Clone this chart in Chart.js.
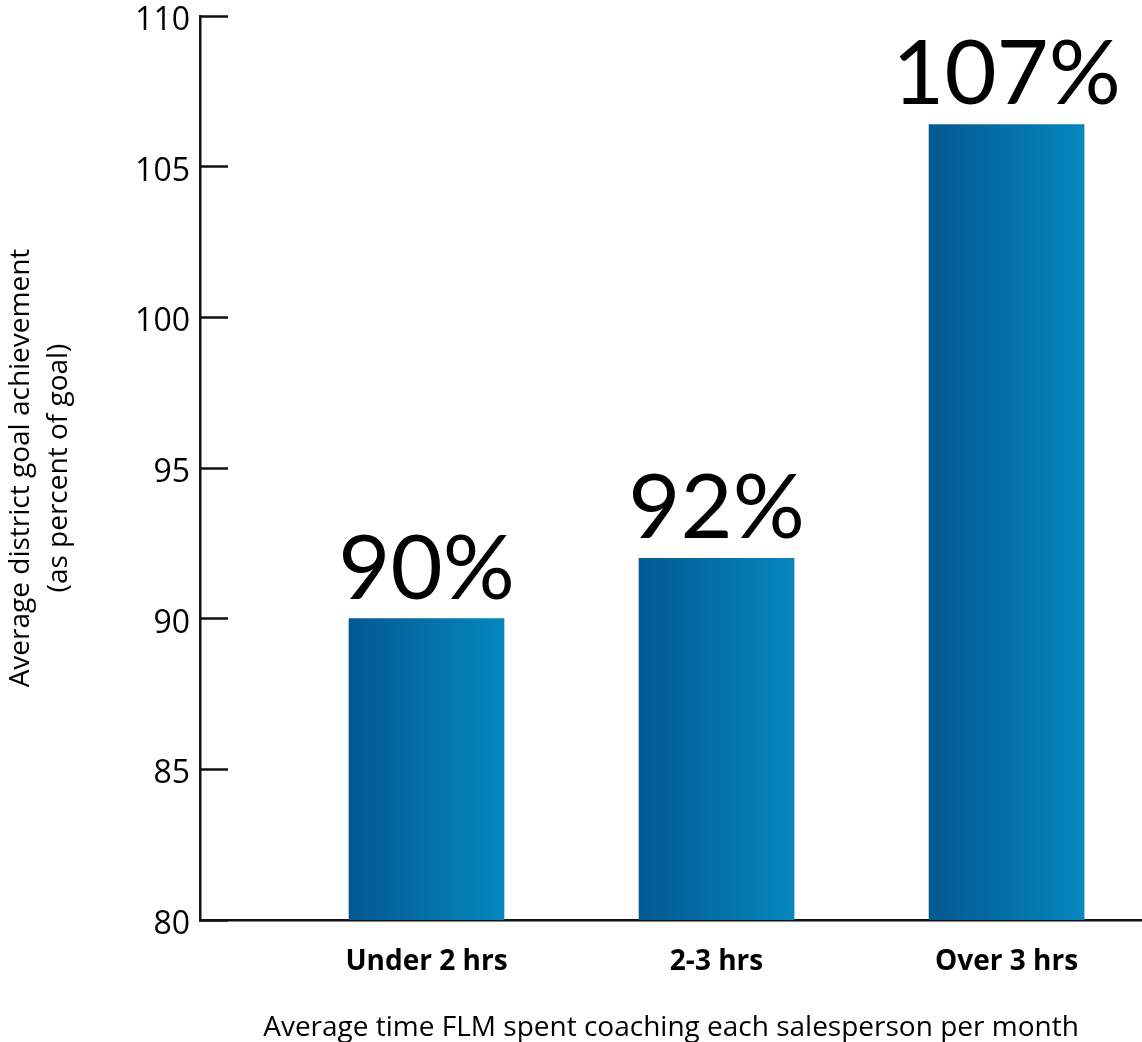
<!DOCTYPE html>
<html>
<head>
<meta charset="utf-8">
<script src="https://cdn.jsdelivr.net/npm/chart.js@4.4.0/dist/chart.umd.min.js"></script>
<style>
  html, body { margin: 0; padding: 0; background: #fff; }
  #wrap { width: 1142px; height: 1042px; position: relative; }
</style>
</head>
<body>
<div id="wrap"><canvas id="chart"></canvas></div>
<script>
// chart data
const categories = ['Under 2 hrs', '2-3 hrs', 'Over 3 hrs'];
const achievement = [90, 92, 106.4];
const valueLabels = ['90%', '92%', '107%'];
const yTicks = [80, 85, 90, 95, 100, 105, 110];
const yTitle = ['Average district goal achievement', '(as percent of goal)'];
const xTitle = 'Average time FLM spent coaching each salesperson per month';

const BAR_WIDTH = 155;
const INK = '#111111';

// left-to-right blue gradient on each bar
const barGradient = (context) => {
    const chart = context.chart;
    if (!chart.chartArea || !chart.scales.x) return '#0570a8';
    const cx = chart.scales.x.getPixelForValue(context.dataIndex + 1);
    const g = chart.ctx.createLinearGradient(cx - BAR_WIDTH / 2, 0, cx + BAR_WIDTH / 2, 0);
    g.addColorStop(0, '#045891');
    g.addColorStop(1, '#0587bd');
    return g;
};

// big percent labels over the bars
const valueLabelPlugin = {
    id: 'valueLabels',
    afterDatasetsDraw(chart) {
        const ctx = chart.ctx;
        const meta = chart.getDatasetMeta(0);
        ctx.save();
        ctx.fillStyle = '#000';
        ctx.font = '90px Lato, "Open Sans", sans-serif';
        ctx.textAlign = 'center';
        ctx.textBaseline = 'alphabetic';
        meta.data.forEach((bar, i) => {
            ctx.fillText(valueLabels[i], bar.x, bar.y - 20);
        });
        ctx.restore();
    }
};

const ctx = document.getElementById('chart').getContext('2d');
new Chart(ctx, {
    type: 'bar',
    data: {
        datasets: [{
            data: achievement.map((v, i) => ({ x: i + 1, y: v })),
            backgroundColor: barGradient,
            barThickness: BAR_WIDTH,
            borderWidth: 0,
        }],
    },
    plugins: [valueLabelPlugin],
    options: {
        responsive: true,
        maintainAspectRatio: false,
        animation: false,
        layout: { padding: { top: 16, right: 0, bottom: 0, left: 0 } },
        plugins: {
            legend: { display: false },
            tooltip: { enabled: false },
        },
        scales: {
            x: {
                type: 'linear',
                offset: false,
                min: 0.219,
                max: 3.467,
                afterBuildTicks: (scale) => {
                    scale.ticks = categories.map((c, i) => ({ value: i + 1 }));
                },
                afterFit: (scale) => {
                    scale.height = 122;
                    scale.paddingLeft = 0;
                    scale.paddingRight = 0;
                },
                grid: { display: false, drawTicks: false },
                border: { display: true, color: INK, width: 2.5 },
                ticks: {
                    callback: (v) => categories[v - 1],
                    color: '#000',
                    font: { family: '"Open Sans", sans-serif', size: 28, weight: 'bold' },
                    padding: 25,
                    maxRotation: 0,
                    autoSkip: false,
                },
                title: {
                    display: true,
                    text: xTitle,
                    color: '#000',
                    font: { family: '"Open Sans", sans-serif', size: 28, lineHeight: 1 },
                    padding: { top: 20, bottom: 0 },
                },
            },
            y: {
                min: 80,
                max: 110,
                afterBuildTicks: (scale) => {
                    scale.ticks = yTicks.map(v => ({ value: v }));
                },
                afterFit: (scale) => {
                    scale.width = 200;
                    scale.paddingTop = 0;
                    scale.paddingBottom = 0;
                },
                grid: {
                    drawOnChartArea: false,
                    drawTicks: true,
                    tickLength: -28,
                    tickWidth: 2.5,
                    tickColor: INK,
                },
                border: { display: true, color: INK, width: 2.5 },
                ticks: {
                    color: '#000',
                    font: { family: '"Open Sans", sans-serif', size: 32 },
                    padding: 38,
                    labelOffset: 5,
                },
                title: {
                    display: true,
                    text: yTitle,
                    color: '#000',
                    font: { family: '"Open Sans", sans-serif', size: 28, lineHeight: 1.36 },
                    padding: { top: 2, bottom: 0 },
                },
            },
        },
    },
});
</script>
</body>
</html>
